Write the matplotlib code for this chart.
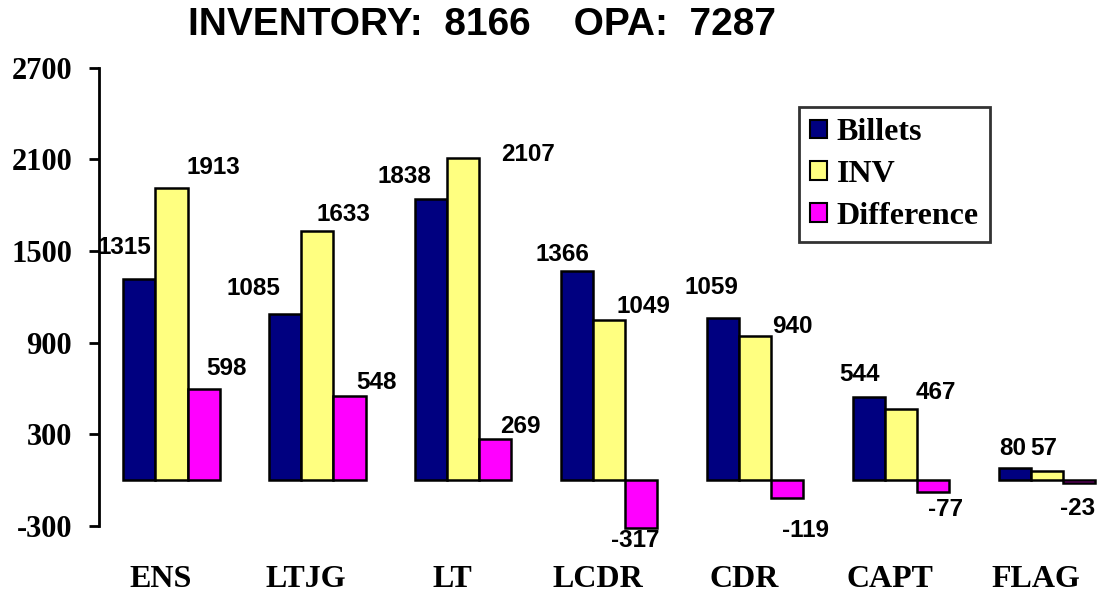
import matplotlib
matplotlib.use("Agg")
import matplotlib.pyplot as plt
from matplotlib.patches import Patch
import numpy as np

# chart data
ranks = ['ENS', 'LTJG', 'LT', 'LCDR', 'CDR', 'CAPT', 'FLAG']
billets = [1315, 1085, 1838, 1366, 1059, 544, 80]
inv = [1913, 1633, 2107, 1049, 940, 467, 57]
diff = [598, 548, 269, -317, -119, -77, -23]
yticks = [-300, 300, 900, 1500, 2100, 2700]
title = 'INVENTORY:  8166    OPA:  7287'

# label offsets in pixels (dx, dy) from the bar end, the way the slide had them
billet_off = [(-15, 32), (-32, 26), (-27, 23), (-15, 17), (-12, 31), (-9, 22), (-2, 19)]
inv_off = [(42, 20), (26, 16), (65, 4), (34, 13), (37, 10), (35, 16), (-3, 23)]
diff_off = [(23, 20), (27, 14), (25, 12), (-6, -12), (18, -32), (12, -18), (-2, -25)]

NAVY = '#000080'
YELLOW = '#FFFF80'
MAGENTA = '#FF00FF'
SERIF = 'Liberation Serif'
SANS = 'Liberation Sans'

fig = plt.figure(figsize=(11.02, 5.97), dpi=100)
ax = fig.add_axes([98.5 / 1102, 71.3 / 597, 1003.5 / 1102, 458 / 597])

x = np.arange(len(ranks))
w = 0.22
series = [(billets, NAVY, -w, billet_off),
          (inv, YELLOW, 0, inv_off),
          (diff, MAGENTA, w, diff_off)]
for vals, col, shift, offs in series:
    ax.bar(x + shift, vals, w, color=col, edgecolor='black', linewidth=1.8,
           zorder=3, clip_on=False)
    for xi, v, (dx, dy) in zip(x, vals, offs):
        ax.annotate(str(v), xy=(xi + shift, v), xytext=(dx * 0.72, dy * 0.72),
                    textcoords='offset points', ha='center', va='center',
                    fontsize=17.5, fontweight='bold', family=SANS, zorder=5,
                    annotation_clip=False)

ax.set_xlim(-0.5, 6.377)
ax.set_ylim(-300, 2700)
ax.set_yticks(yticks)
ax.set_yticklabels([str(t) for t in yticks], fontsize=22, fontweight='bold', family=SERIF)
ax.set_xticks([])
ax.tick_params(axis='y', direction='out', length=7, width=2, pad=12)

# rank names sit a little left of the group centre
for xi, name in zip(x, ranks):
    ax.annotate(name, xy=(xi, 0), xycoords=('data', 'axes fraction'),
                xytext=(-8, -54 * 0.72), textcoords='offset points',
                ha='center', va='center', fontsize=23, fontweight='bold',
                family=SERIF, annotation_clip=False)

for s in ['top', 'right', 'bottom']:
    ax.spines[s].set_visible(False)
ax.spines['left'].set_linewidth(2)

fig.text(482 / 1102, 1 - 25 / 597, title, ha='center', va='center',
         fontsize=28, fontweight='bold', family=SANS)

handles = [Patch(facecolor=NAVY, edgecolor='black', linewidth=1.5, label='Billets'),
           Patch(facecolor=YELLOW, edgecolor='black', linewidth=1.5, label='INV'),
           Patch(facecolor=MAGENTA, edgecolor='black', linewidth=1.5, label='Difference')]
leg = fig.legend(handles=handles, loc='upper left',
                 bbox_to_anchor=(799 / 1102, 1 - 107 / 597),
                 prop={'family': SERIF, 'weight': 'bold', 'size': 23},
                 handlelength=0.52, handleheight=0.52, handletextpad=0.3,
                 labelspacing=0.4, borderpad=0.35, borderaxespad=0,
                 fancybox=False, frameon=True)
leg.get_frame().set_edgecolor('black')
leg.get_frame().set_linewidth(2)

fig.savefig('out.png', dpi=100)
